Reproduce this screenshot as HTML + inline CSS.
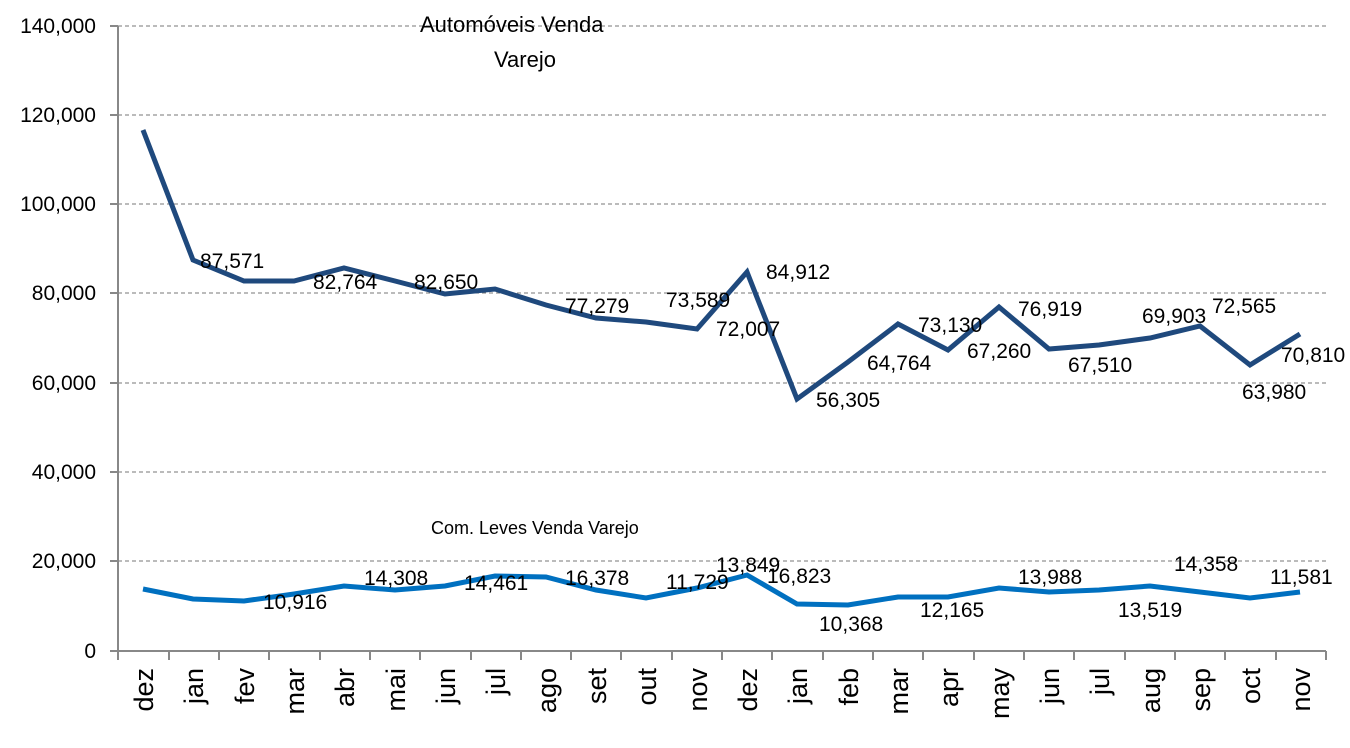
<!DOCTYPE html><html><head><style>body{margin:0;background:#fff}svg text{font-family:"Liberation Sans",sans-serif}</style></head><body>
<svg width="1350" height="743" xmlns="http://www.w3.org/2000/svg">
<g stroke="#777" stroke-width="1" stroke-dasharray="4,3">
<line x1="118" y1="26" x2="1326" y2="26"/><line x1="118" y1="115" x2="1326" y2="115"/><line x1="118" y1="204" x2="1326" y2="204"/><line x1="118" y1="293" x2="1326" y2="293"/><line x1="118" y1="383" x2="1326" y2="383"/><line x1="118" y1="472" x2="1326" y2="472"/><line x1="118" y1="561" x2="1326" y2="561"/></g>
<g stroke="#888" stroke-width="2"><line x1="118" y1="26" x2="118" y2="660"/><line x1="110" y1="651" x2="1326" y2="651"/>
<line x1="110" y1="26" x2="118" y2="26"/><line x1="110" y1="115" x2="118" y2="115"/><line x1="110" y1="204" x2="118" y2="204"/><line x1="110" y1="293" x2="118" y2="293"/><line x1="110" y1="383" x2="118" y2="383"/><line x1="110" y1="472" x2="118" y2="472"/><line x1="110" y1="561" x2="118" y2="561"/>
<path d="M169 651v9M219 651v9M269 651v9M320 651v9M370 651v9M420 651v9M471 651v9M521 651v9M571 651v9M621 651v9M672 651v9M722 651v9M772 651v9M823 651v9M873 651v9M923 651v9M974 651v9M1024 651v9M1074 651v9M1125 651v9M1175 651v9M1225 651v9M1276 651v9M1326 651v9"/></g>
<g font-size="21" text-anchor="end" fill="#000"><text x="96" y="33">140,000</text><text x="96" y="122">120,000</text><text x="96" y="211">100,000</text><text x="96" y="300">80,000</text><text x="96" y="390">60,000</text><text x="96" y="479">40,000</text><text x="96" y="568">20,000</text><text x="96" y="658">0</text></g>
<g font-size="27" text-anchor="end" fill="#000">
<text transform="translate(153,668) rotate(-90)">dez</text><text transform="translate(203,668) rotate(-90)">jan</text><text transform="translate(254,668) rotate(-90)">fev</text><text transform="translate(304,668) rotate(-90)">mar</text><text transform="translate(354,668) rotate(-90)">abr</text><text transform="translate(405,668) rotate(-90)">mai</text><text transform="translate(455,668) rotate(-90)">jun</text><text transform="translate(505,668) rotate(-90)">jul</text><text transform="translate(556,668) rotate(-90)">ago</text><text transform="translate(606,668) rotate(-90)">set</text><text transform="translate(656,668) rotate(-90)">out</text><text transform="translate(707,668) rotate(-90)">nov</text><text transform="translate(757,668) rotate(-90)">dez</text><text transform="translate(807,668) rotate(-90)">jan</text><text transform="translate(858,668) rotate(-90)">feb</text><text transform="translate(908,668) rotate(-90)">mar</text><text transform="translate(958,668) rotate(-90)">apr</text><text transform="translate(1009,668) rotate(-90)">may</text><text transform="translate(1059,668) rotate(-90)">jun</text><text transform="translate(1109,668) rotate(-90)">jul</text><text transform="translate(1160,668) rotate(-90)">aug</text><text transform="translate(1210,668) rotate(-90)">sep</text><text transform="translate(1260,668) rotate(-90)">oct</text><text transform="translate(1310,668) rotate(-90)">nov</text></g>
<polyline fill="none" stroke="#1F497D" stroke-width="5" points="143,130 193,260 244,281 294,281 344,268 395,281 445,294 495,289 546,305 596,318 646,322 697,329 747,272 797,399 848,362 898,324 948,350 999,307 1049,349 1099,345 1150,338 1200,326 1250,365 1300,334"/>
<polyline fill="none" stroke="#0070C0" stroke-width="5" points="143,589 193,599 244,601 294,594 344,586 395,590 445,586 495,576 546,577 596,590 646,598 697,588 747,575 797,604 848,605 898,597 948,597 999,588 1049,592 1099,590 1150,586 1200,592 1250,598 1300,592"/>
<g font-size="21" fill="#000">
<text x="420" y="32" font-size="22">Automóveis Venda</text><text x="494" y="67" font-size="22">Varejo</text>
<text x="431" y="534" font-size="18">Com. Leves Venda Varejo</text>
<text x="200" y="268">87,571</text><text x="313" y="289">82,764</text><text x="414" y="289">82,650</text><text x="565" y="313">77,279</text><text x="666" y="307">73,589</text><text x="716" y="336">72,007</text><text x="766" y="279">84,912</text><text x="816" y="407">56,305</text><text x="867" y="370">64,764</text><text x="918" y="332">73,130</text><text x="967" y="358">67,260</text><text x="1018" y="316">76,919</text><text x="1068" y="372">67,510</text><text x="1142" y="323">69,903</text><text x="1212" y="313">72,565</text><text x="1242" y="399">63,980</text><text x="1281" y="362">70,810</text>
<text x="263" y="609">10,916</text><text x="364" y="585">14,308</text><text x="464" y="590">14,461</text><text x="565" y="585">16,378</text><text x="666" y="589">11,729</text><text x="716" y="572">13,849</text><text x="767" y="583">16,823</text><text x="819" y="631">10,368</text><text x="920" y="617">12,165</text><text x="1018" y="584">13,988</text><text x="1118" y="617">13,519</text><text x="1174" y="571">14,358</text><text x="1270" y="584">11,581</text></g>
</svg></body></html>
